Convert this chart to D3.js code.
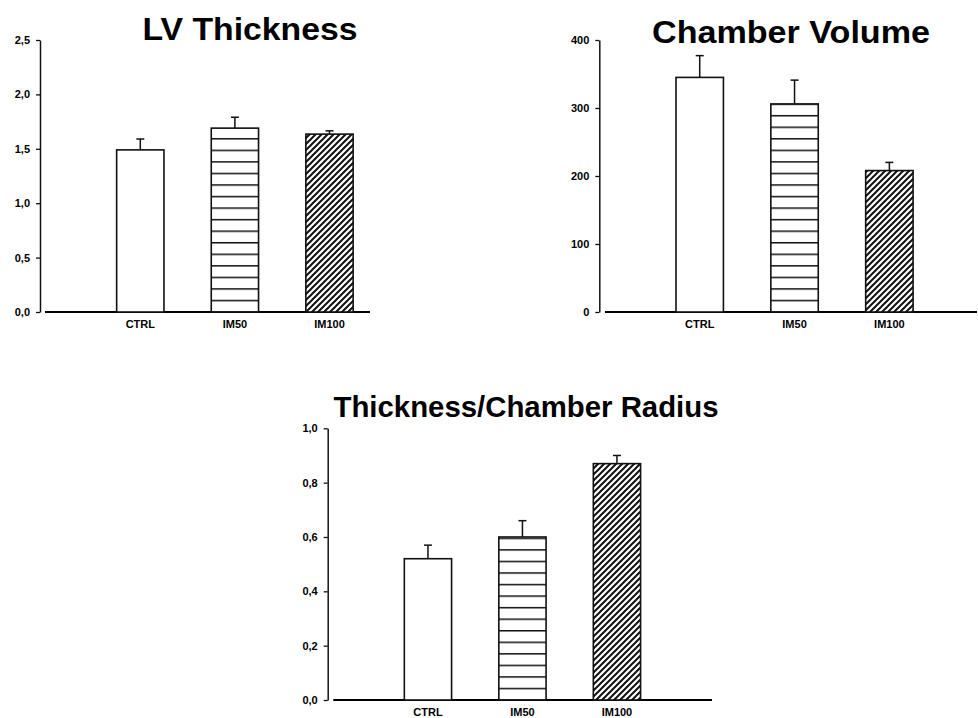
<!DOCTYPE html>
<html>
<head>
<meta charset="utf-8">
<script src="https://cdn.jsdelivr.net/npm/d3@7"></script>
<style>
  html, body { margin: 0; padding: 0; background: #fff; }
  svg { display: block; }
</style>
</head>
<body>
<svg id="fig" width="978" height="718"></svg>
<script>
// Groups
const categories = ["CTRL", "IM50", "IM100"];

// LV wall thickness (mean, SEM)
const lvThickness = [1.49, 1.69, 1.635];
const lvThicknessErr = [0.10, 0.10, 0.03];
const lvTicks = [0, 0.5, 1.0, 1.5, 2.0, 2.5];
const lvTickLabels = ["0,0", "0,5", "1,0", "1,5", "2,0", "2,5"];

// Chamber volume (mean, SEM)
const chamberVolume = [345, 306, 208];
const chamberVolumeErr = [32, 35, 12];
const cvTicks = [0, 100, 200, 300, 400];
const cvTickLabels = ["0", "100", "200", "300", "400"];

// Thickness / chamber radius ratio (mean, SEM)
const thicknessRadius = [0.52, 0.60, 0.87];
const thicknessRadiusErr = [0.05, 0.06, 0.03];
const trTicks = [0, 0.2, 0.4, 0.6, 0.8, 1.0];
const trTickLabels = ["0,0", "0,2", "0,4", "0,6", "0,8", "1,0"];

const FONT = "'Liberation Sans', Arial, Helvetica, sans-serif";
const svg = d3.select("#fig");
const defs = svg.append("defs");

// Diagonal hatch used for the IM100 group
const hatch = defs.append("pattern")
  .attr("id", "hatch")
  .attr("patternUnits", "userSpaceOnUse")
  .attr("width", 6).attr("height", 6);
hatch.append("rect").attr("width", 6).attr("height", 6).attr("fill", "#fff");
hatch.append("path")
  .attr("d", "M0,6 L6,0 M-1.5,1.5 L1.5,-1.5 M4.5,7.5 L7.5,4.5")
  .attr("stroke", "#111").attr("stroke-width", 2);

// Each panel: layout of the frame plus its data
const panels = [
  {
    id: "p1", title: "LV Thickness", titleX: 250, titleY: 40, titleSize: 32, titleWidth: 215,
    values: lvThickness, errors: lvThicknessErr,
    domain: [0, 2.5], ticks: lvTicks, tickLabels: lvTickLabels,
    yRange: [312, 40], axisX: 40, xLine: [45, 370], band: [93, 376.8]
  },
  {
    id: "p2", title: "Chamber Volume", titleX: 791, titleY: 43, titleSize: 32, titleWidth: 278,
    values: chamberVolume, errors: chamberVolumeErr,
    domain: [0, 400], ticks: cvTicks, tickLabels: cvTickLabels,
    yRange: [312, 40], axisX: 599.3, xLine: [605, 977], band: [652.3, 936.8]
  },
  {
    id: "p3", title: "Thickness/Chamber Radius", titleX: 526, titleY: 417, titleSize: 29, titleWidth: 385,
    values: thicknessRadius, errors: thicknessRadiusErr,
    domain: [0, 1.0], ticks: trTicks, tickLabels: trTickLabels,
    yRange: [700, 428.3], axisX: 327.7, xLine: [333.3, 712], band: [380.7, 664.2]
  }
];

panels.forEach(p => {
  const y = d3.scaleLinear().domain(p.domain).range(p.yRange);
  const x = d3.scaleBand().domain(categories).range(p.band)
    .paddingInner(0.5).paddingOuter(0.25);
  const base = y(0);

  // Horizontal stripes anchored at this panel's baseline
  const stripeStep = 11.55;
  const stripes = defs.append("pattern")
    .attr("id", "stripes-" + p.id)
    .attr("patternUnits", "userSpaceOnUse")
    .attr("x", 0).attr("y", base - 0.7)
    .attr("width", 10).attr("height", stripeStep);
  stripes.append("rect").attr("width", 10).attr("height", stripeStep).attr("fill", "#fff");
  stripes.append("rect").attr("width", 10).attr("height", 1.5).attr("fill", "#111");

  const fills = {
    "CTRL": "#fff",
    "IM50": "url(#stripes-" + p.id + ")",
    "IM100": "url(#hatch)"
  };

  const g = svg.append("g");

  // Title
  g.append("text")
    .attr("x", p.titleX).attr("y", p.titleY)
    .attr("text-anchor", "middle")
    .attr("font-family", FONT).attr("font-weight", "bold")
    .attr("font-size", p.titleSize).attr("fill", "#000")
    .attr("textLength", p.titleWidth).attr("lengthAdjust", "spacingAndGlyphs")
    .text(p.title);

  // Y axis
  const yAxis = g.append("g")
    .attr("transform", `translate(${p.axisX},0)`)
    .call(d3.axisLeft(y).tickValues(p.ticks)
      .tickFormat((d, i) => p.tickLabels[i])
      .tickSize(4).tickSizeOuter(0).tickPadding(6));
  yAxis.select(".domain").attr("stroke", "#111").attr("stroke-width", 1.5);
  yAxis.selectAll(".tick line").attr("stroke", "#111").attr("stroke-width", 1.3);
  yAxis.selectAll("text")
    .attr("font-family", FONT).attr("font-weight", "bold")
    .attr("font-size", 11).attr("fill", "#000");

  // Baseline
  g.append("line")
    .attr("x1", p.xLine[0]).attr("x2", p.xLine[1])
    .attr("y1", base).attr("y2", base)
    .attr("stroke", "#000").attr("stroke-width", 2);

  // Category labels
  const xAxis = g.append("g")
    .attr("transform", `translate(0,${base})`)
    .call(d3.axisBottom(x).tickSize(0).tickPadding(8));
  xAxis.select(".domain").remove();
  xAxis.selectAll("text")
    .attr("font-family", FONT).attr("font-weight", "bold")
    .attr("font-size", 11).attr("fill", "#000");

  const data = categories.map((c, i) => ({ c, v: p.values[i], e: p.errors[i] }));

  // Error bars (upper half only)
  const eb = g.append("g").selectAll("g").data(data).join("g");
  eb.append("line")
    .attr("x1", d => x(d.c) + x.bandwidth() / 2)
    .attr("x2", d => x(d.c) + x.bandwidth() / 2)
    .attr("y1", d => y(d.v)).attr("y2", d => y(d.v + d.e))
    .attr("stroke", "#111").attr("stroke-width", 1.5);
  eb.append("line")
    .attr("x1", d => x(d.c) + x.bandwidth() / 2 - 4)
    .attr("x2", d => x(d.c) + x.bandwidth() / 2 + 4)
    .attr("y1", d => y(d.v + d.e)).attr("y2", d => y(d.v + d.e))
    .attr("stroke", "#111").attr("stroke-width", 1.5);

  // Bars
  g.append("g").selectAll("rect").data(data).join("rect")
    .attr("x", d => x(d.c))
    .attr("y", d => y(d.v))
    .attr("width", x.bandwidth())
    .attr("height", d => base - y(d.v))
    .attr("fill", d => fills[d.c])
    .attr("stroke", "#111").attr("stroke-width", 1.6);
});
</script>
</body>
</html>
